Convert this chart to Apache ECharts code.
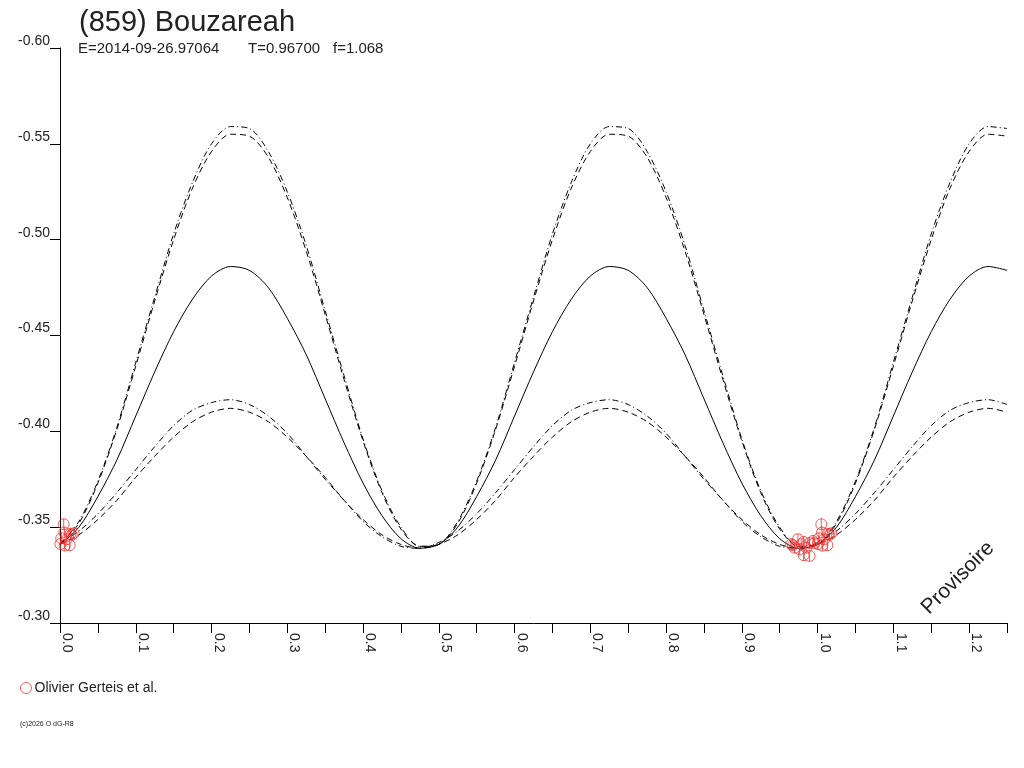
<!DOCTYPE html>
<html>
<head>
<meta charset="utf-8">
<script src="https://cdn.jsdelivr.net/npm/echarts@6/dist/echarts.min.js"></script>
<style>
html,body{margin:0;padding:0;background:#fff;}
#chart{width:1024px;height:768px;}
</style>
</head>
<body>
<div id="chart"></div>
<script>
// Phase grid of the model curves (read every 0.025 in phase)
const phases = [0.000,0.025,0.050,0.075,0.100,0.125,0.150,0.175,0.200,0.225,0.250,0.275,0.300,0.325,0.350,0.375,0.400,0.425,0.450,0.475,
  0.500,0.525,0.550,0.575,0.600,0.625,0.650,0.675,0.700,0.725,0.750,0.775,0.800,0.825,0.850,0.875,0.900,0.925,0.950,0.975,
  1.000,1.025,1.050,1.075,1.100,1.125,1.150,1.175,1.200,1.225,1.250];

// Solid: mean model curve
const solidCurve = [-0.341,-0.350,-0.366,-0.385,-0.408,-0.431,-0.452,-0.469,-0.481,-0.486,-0.484,-0.475,-0.459,-0.440,-0.417,-0.394,-0.373,-0.356,-0.344,-0.339,
  -0.341,-0.350,-0.366,-0.385,-0.408,-0.431,-0.452,-0.469,-0.481,-0.486,-0.484,-0.475,-0.459,-0.440,-0.417,-0.394,-0.373,-0.356,-0.344,-0.339,
  -0.341,-0.350,-0.366,-0.385,-0.408,-0.431,-0.452,-0.469,-0.481,-0.486,-0.484];

// Upper envelope, dash-dot
const upperDashDot = [-0.341,-0.353,-0.374,-0.402,-0.436,-0.470,-0.503,-0.530,-0.550,-0.559,-0.558,-0.546,-0.525,-0.497,-0.463,-0.429,-0.396,-0.369,-0.350,-0.340,
  -0.341,-0.353,-0.374,-0.402,-0.436,-0.470,-0.503,-0.530,-0.550,-0.559,-0.558,-0.546,-0.525,-0.497,-0.463,-0.429,-0.396,-0.369,-0.350,-0.340,
  -0.341,-0.353,-0.374,-0.402,-0.436,-0.470,-0.503,-0.530,-0.550,-0.559,-0.558];

// Upper envelope, dashed
const upperDashed = [-0.341,-0.352,-0.373,-0.401,-0.434,-0.468,-0.500,-0.527,-0.546,-0.555,-0.554,-0.543,-0.522,-0.494,-0.461,-0.427,-0.395,-0.368,-0.349,-0.340,
  -0.341,-0.352,-0.373,-0.401,-0.434,-0.468,-0.500,-0.527,-0.546,-0.555,-0.554,-0.543,-0.522,-0.494,-0.461,-0.427,-0.395,-0.368,-0.349,-0.340,
  -0.341,-0.352,-0.373,-0.401,-0.434,-0.468,-0.500,-0.527,-0.546,-0.555,-0.554];

// Lower envelope, dash-dot
const lowerDashDot = [-0.342,-0.348,-0.357,-0.368,-0.380,-0.392,-0.403,-0.411,-0.415,-0.4165,-0.414,-0.408,-0.399,-0.387,-0.375,-0.364,-0.353,-0.345,-0.340,-0.339,
  -0.342,-0.348,-0.357,-0.368,-0.380,-0.392,-0.403,-0.411,-0.415,-0.4165,-0.414,-0.408,-0.399,-0.387,-0.375,-0.364,-0.353,-0.345,-0.340,-0.339,
  -0.342,-0.348,-0.357,-0.368,-0.380,-0.392,-0.403,-0.411,-0.415,-0.4165,-0.414];

// Lower envelope, dashed
const lowerDashed = [-0.341,-0.346,-0.354,-0.364,-0.376,-0.387,-0.397,-0.405,-0.410,-0.412,-0.410,-0.405,-0.397,-0.387,-0.376,-0.364,-0.354,-0.346,-0.341,-0.339,
  -0.341,-0.346,-0.354,-0.364,-0.376,-0.387,-0.397,-0.405,-0.410,-0.412,-0.410,-0.405,-0.397,-0.387,-0.376,-0.364,-0.354,-0.346,-0.341,-0.339,
  -0.341,-0.346,-0.354,-0.364,-0.376,-0.387,-0.397,-0.405,-0.410,-0.412,-0.410];

// Observations (Olivier Gerteis et al.), folded phase in [0,1) and relative magnitude
const obsPhase = [0.0005,0.0017,0.0049,0.0058,0.0062,0.0090,0.0128,0.0138,0.0155,0.0180,
  0.9652,0.9674,0.9696,0.9740,0.9762,0.9784,0.9815,0.9815,0.9850,0.9894,0.9894,0.9938,0.9960];
const obsMag = [-0.3412,-0.3442,-0.3515,-0.3472,-0.3404,-0.3437,-0.3406,-0.3465,-0.3460,-0.3468,
  -0.3411,-0.3406,-0.3393,-0.3437,-0.3385,-0.3411,-0.3423,-0.3354,-0.3393,-0.3417,-0.3350,-0.3428,-0.3417];

const xTickLabels = ['0.0','0.1','0.2','0.3','0.4','0.5','0.6','0.7','0.8','0.9','1.0','1.1','1.2'];
const yTickLabels = ['-0.60','-0.55','-0.50','-0.45','-0.40','-0.35','-0.30'];

const titleText = '(859) Bouzareah';
const subEpoch = 'E=2014-09-26.97064';
const subPeriod = 'T=0.96700';
const subF = 'f=1.068';
const legendName = 'Olivier Gerteis et al.';
const watermark = 'Provisoire';
const footer = '(c)2026 O dG-R8';

const FONT = '"Liberation Sans", Arial, sans-serif';
const RED = '#f03232';
const INK = '#222';

function pairs(ys) { return phases.map((p, i) => [p, ys[i]]); }
const obsData = [];
obsPhase.forEach((p, i) => { obsData.push([p, obsMag[i]]); obsData.push([p + 1, obsMag[i]]); });

const chart = echarts.init(document.getElementById('chart'), null, { renderer: 'canvas' });

const lineBase = { type: 'line', showSymbol: false, smooth: 0.3, silent: true, animation: false, z: 2 };

chart.setOption({
  backgroundColor: '#fff',
  animation: false,
  title: {
    text: titleText, left: 74, top: 3,
    textStyle: { fontFamily: FONT, fontSize: 29, fontWeight: 'normal', color: INK }
  },
  graphic: [
    { type: 'text', left: 78, top: 41, style: { text: subEpoch, font: '15px ' + FONT, fill: INK } },
    { type: 'text', left: 248, top: 41, style: { text: subPeriod, font: '15px ' + FONT, fill: INK } },
    { type: 'text', left: 333, top: 41, style: { text: subF, font: '15px ' + FONT, fill: INK } },
    { type: 'text', x: 958, y: 578, rotation: Math.PI / 4,
      style: { text: watermark, font: '21px ' + FONT, fill: INK, align: 'center', verticalAlign: 'middle' } },
    { type: 'text', left: 20, top: 721, style: { text: footer, font: '7px ' + FONT, fill: INK } }
  ],
  legend: {
    left: 15, top: 676, orient: 'horizontal', itemWidth: 11, itemHeight: 11, itemGap: 5,
    textStyle: { fontFamily: FONT, fontSize: 14, color: INK, padding: [0, 0, 0, -2] },
    data: [{ name: legendName, icon: 'circle', itemStyle: { color: 'rgba(0,0,0,0)', borderColor: RED, borderWidth: 1 } }]
  },
  grid: { left: 60, right: 17, top: 48, bottom: 145, containLabel: false },
  xAxis: {
    type: 'value', min: 0, max: 1.25, interval: 0.05,
    axisLine: { show: true, onZero: false, lineStyle: { color: '#000', width: 1 } },
    axisTick: { show: true, length: 10, lineStyle: { color: '#000' } },
    splitLine: { show: false },
    axisLabel: {
      rotate: -90, margin: 10, fontFamily: FONT, fontSize: 14, color: INK, verticalAlign: 'bottom',
      formatter: function (v) {
        const k = Math.round(v * 10);
        if (Math.abs(v * 10 - k) > 1e-6) return '';
        return xTickLabels[k] || '';
      }
    }
  },
  yAxis: {
    type: 'value', min: -0.60, max: -0.30, interval: 0.05, inverse: true,
    axisLine: { show: true, onZero: false, lineStyle: { color: '#000', width: 1 } },
    axisTick: { show: true, length: 10, lineStyle: { color: '#000' } },
    splitLine: { show: false },
    axisLabel: {
      margin: 10, align: 'right', verticalAlign: 'bottom', fontFamily: FONT, fontSize: 14, color: INK,
      formatter: function (v) {
        const k = Math.round((v + 0.60) / 0.05);
        return yTickLabels[k] || '';
      }
    }
  },
  series: [
    Object.assign({}, lineBase, { name: 'mean', data: pairs(solidCurve), lineStyle: { color: '#000', width: 1, type: 'solid' } }),
    Object.assign({}, lineBase, { name: 'upper1', data: pairs(upperDashDot), lineStyle: { color: '#000', width: 1, type: [6, 3, 1, 3] } }),
    Object.assign({}, lineBase, { name: 'upper2', data: pairs(upperDashed), lineStyle: { color: '#000', width: 1, type: [6, 4] } }),
    Object.assign({}, lineBase, { name: 'lower1', data: pairs(lowerDashDot), lineStyle: { color: '#000', width: 1, type: [6, 3, 1, 3] } }),
    Object.assign({}, lineBase, { name: 'lower2', data: pairs(lowerDashed), lineStyle: { color: '#000', width: 1, type: [6, 4] } }),
    {
      name: legendName, type: 'scatter', data: obsData, z: 5, clip: true,
      symbol: 'path://M0,-5 A5,5 0 1,1 0,5 A5,5 0 1,1 0,-5 Z M0,-5 L0,5',
      symbolSize: 11,
      itemStyle: { color: 'rgba(0,0,0,0)', borderColor: RED, borderWidth: 1 }
    }
  ]
});
</script>
</body>
</html>
